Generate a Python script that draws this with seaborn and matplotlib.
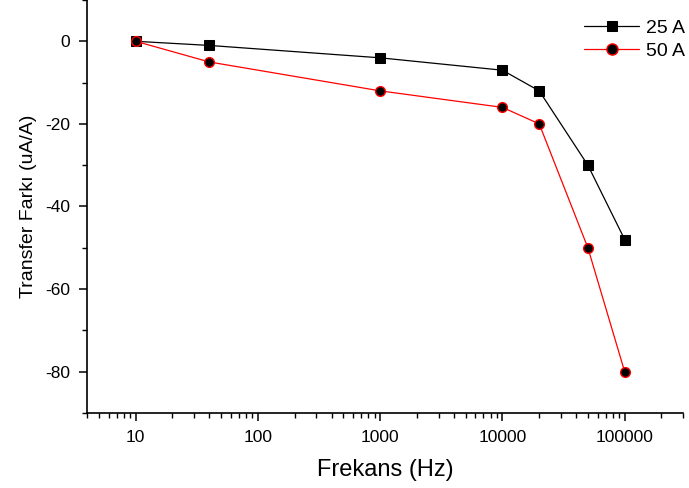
import matplotlib
matplotlib.use("Agg")
import matplotlib.pyplot as plt
import seaborn as sns
import pandas as pd
from matplotlib.ticker import LogLocator, FixedLocator, MultipleLocator, NullFormatter

sns.set_style("ticks", {'text.color': 'black', 'axes.labelcolor': 'black',
                        'xtick.color': 'black', 'ytick.color': 'black'})
plt.rcParams['font.family'] = ['Liberation Sans', 'DejaVu Sans']
plt.rcParams['axes.unicode_minus'] = False

# datos
frekans = [10, 40, 1000, 10000, 20000, 50000, 100000]
fark_25 = [0, -1, -4, -7, -12, -30, -48]
fark_50 = [0, -5, -12, -16, -20, -50, -80]

df = pd.DataFrame({
    'Frekans': frekans * 2,
    'Fark': fark_25 + fark_50,
    'Seri': ['25 A'] * len(frekans) + ['50 A'] * len(frekans),
})

fig = plt.figure(figsize=(6.89, 4.88), dpi=100)
ax = fig.add_axes([0.1263, 0.1537, 0.865, 0.8463])

sns.lineplot(data=df[df['Seri'] == '25 A'], x='Frekans', y='Fark', ax=ax,
             color='black', lw=0.9, marker='s', markersize=6.5,
             markerfacecolor='black', markeredgecolor='black', label='25 A')
sns.lineplot(data=df[df['Seri'] == '50 A'], x='Frekans', y='Fark', ax=ax,
             color='red', lw=0.9, marker='o', markersize=7,
             markerfacecolor='black', markeredgecolor='red', markeredgewidth=1,
             label='50 A')

ax.set_xscale('log')
ax.set_xlim(4, 3e5)
ax.set_ylim(-90, 10)
ax.xaxis.set_major_locator(FixedLocator([10, 100, 1000, 10000, 100000]))
ax.set_xticklabels(['10', '100', '1000', '10000', '100000'])
ax.xaxis.set_minor_locator(LogLocator(base=10, subs=range(2, 10), numticks=20))
ax.xaxis.set_minor_formatter(NullFormatter())
ax.yaxis.set_major_locator(FixedLocator([0, -20, -40, -60, -80]))
ax.yaxis.set_minor_locator(MultipleLocator(10))

sns.despine(ax=ax)
for s in ['left', 'bottom']:
    ax.spines[s].set_linewidth(1.2)
    ax.spines[s].set_color('black')
ax.tick_params(which='major', length=6, width=1.1, labelsize=12.5, color='black',
               labelcolor='black', pad=6)
ax.tick_params(which='minor', length=3.5, width=1.0, color='black')

ax.set_xlabel('Frekans (Hz)', fontsize=17, labelpad=10, color='black')
ax.set_ylabel('Transfer Farkı (uA/A)', fontsize=14, labelpad=6, color='black')

leg = ax.legend(loc='upper left', bbox_to_anchor=(0.8476, 0.961), bbox_transform=fig.transFigure,
                frameon=False, fontsize=14, handlelength=2.83, handletextpad=0.36,
                labelspacing=0.3, borderaxespad=0, borderpad=0, markerscale=1.15)
for t in leg.get_texts():
    t.set_color('black')

fig.savefig('out.png', dpi=100)
